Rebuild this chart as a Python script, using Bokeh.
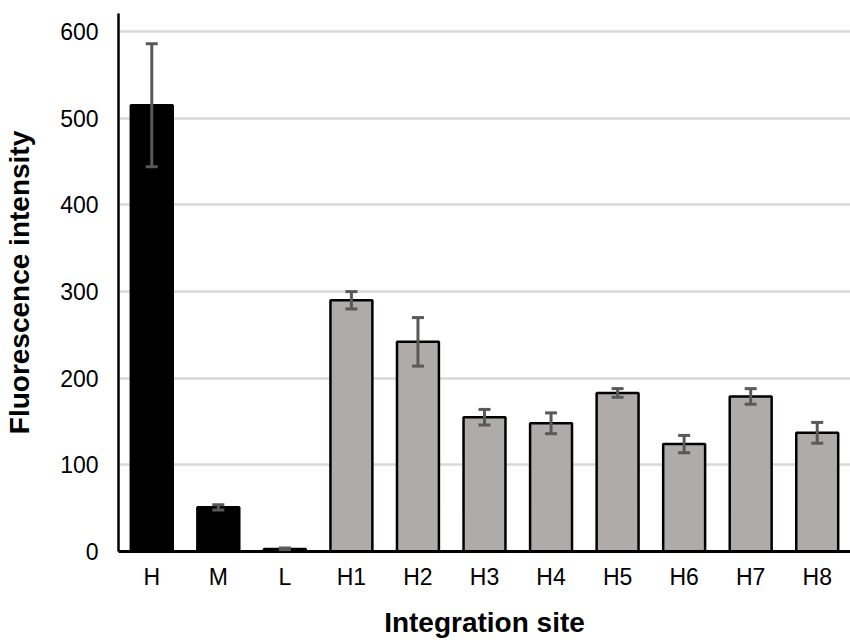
from bokeh.plotting import figure
from bokeh.models import ColumnDataSource, FactorRange, Range1d, FixedTicker, Whisker, TeeHead
from bokeh.embed import file_html
from bokeh.resources import INLINE

sites = ["H", "M", "L", "H1", "H2", "H3", "H4", "H5", "H6", "H7", "H8"]
intensity = [515, 51, 3, 290, 242, 155, 148, 183, 124, 179, 137]
errors = [71, 3, 1, 10, 28, 9, 12, 5, 10, 9, 12]
bar_colors = ["#000000"] * 3 + ["#AFABAB"] * 8
y_ticks = [0, 100, 200, 300, 400, 500, 600]

src = ColumnDataSource(dict(
    x=sites, top=intensity,
    upper=[v + e for v, e in zip(intensity, errors)],
    lower=[v - e for v, e in zip(intensity, errors)],
    color=bar_colors,
))

FONT = "Liberation Sans"

p = figure(width=850, height=640, output_backend="svg", toolbar_location=None,
           x_range=FactorRange(*sites, range_padding=0),
           y_range=Range1d(0, 621))
p.min_border_left = 118
p.min_border_right = 0
p.min_border_top = 13
p.min_border_bottom = 89
p.outline_line_color = None
p.background_fill_color = "white"
p.border_fill_color = "white"

p.vbar(x="x", top="top", width=0.63, source=src, fill_color="color",
       line_color="black", line_width=2.5)

w = Whisker(base="x", upper="upper", lower="lower", source=src,
            line_color="#595959", line_width=3, level="overlay")
w.upper_head = TeeHead(size=12, line_color="#595959", line_width=3)
w.lower_head = TeeHead(size=12, line_color="#595959", line_width=3)
p.add_layout(w)

p.xgrid.grid_line_color = None
p.ygrid.grid_line_color = "#D9D9D9"
p.ygrid.grid_line_width = 2.5
p.yaxis.ticker = FixedTicker(ticks=y_ticks)

for ax in (p.xaxis[0], p.yaxis[0]):
    ax.major_tick_line_color = None
    ax.minor_tick_line_color = None
    ax.major_tick_out = 0
    ax.major_tick_in = 0
    ax.axis_line_color = "black"
    ax.major_label_text_font = FONT
    ax.major_label_text_font_size = "23px"
    ax.major_label_text_color = "#000000"
    ax.axis_label_text_font = FONT
    ax.axis_label_text_font_size = "28px"
    ax.axis_label_text_font_style = "bold"
    ax.axis_label_text_color = "#000000"

p.xaxis.axis_line_width = 3
p.yaxis.axis_line_width = 2.5
p.xaxis.axis_label = "Integration site"
p.yaxis.axis_label = "Fluorescence intensity"
p.xaxis.major_label_standoff = 12
p.xaxis.axis_label_standoff = 14
p.yaxis.major_label_standoff = 20
p.yaxis.axis_label_standoff = 22
p.xaxis.group_text_font_size = "23px"

open("out.html", "w").write(file_html(p, INLINE))
